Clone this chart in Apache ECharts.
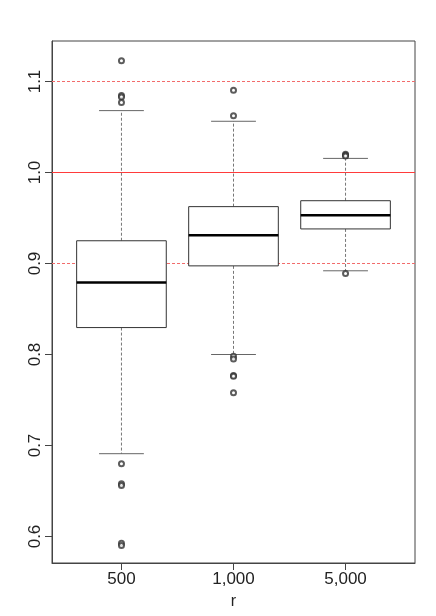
<!DOCTYPE html>
<html>
<head>
<meta charset="utf-8">
<script src="https://cdn.jsdelivr.net/npm/echarts@6/dist/echarts.min.js"></script>
<style>
  html, body { margin: 0; padding: 0; background: #fff; }
  #chart { width: 436px; height: 616px; }
</style>
</head>
<body>
<div id="chart"></div>
<script>
  // categories of r and their box statistics [min, Q1, median, Q3, max]
  const categories = ['500', '1,000', '5,000']
  const whiskerLow = [0.691, 0.800, 0.892]
  const quart1 = [0.8296, 0.8974, 0.938]
  const medians = [0.879, 0.931, 0.953]
  const quart3 = [0.925, 0.9625, 0.969]
  const whiskerHigh = [1.068, 1.0563, 1.0155]

  // outlying points per category
  const outliers500 = [1.1228, 1.0845, 1.083, 1.077, 0.680, 0.658, 0.656, 0.5925, 0.590]
  const outliers1000 = [1.0905, 1.0625, 0.798, 0.795, 0.777, 0.776, 0.758]
  const outliers5000 = [1.020, 1.019, 1.018, 0.889]

  const yTicks = [0.6, 0.7, 0.8, 0.9, 1.0, 1.1]
  const refSolid = 1.0
  const refDotted = [0.9, 1.1]

  const xMin = 0.38
  const xMax = 3.62

  const boxData = categories.map((c, i) => [i + 1, whiskerLow[i], quart1[i], medians[i], quart3[i], whiskerHigh[i]])
  const outlierData = []
  ;[outliers500, outliers1000, outliers5000].forEach((list, i) => {
    list.forEach(v => outlierData.push([i + 1, v]))
  })

  const font = 'Liberation Sans, Arial, sans-serif'

  const renderBox = (params, api) => {
    const x = api.value(0)
    const low = api.coord([x, api.value(1)])
    const q1 = api.coord([x, api.value(2)])
    const med = api.coord([x, api.value(3)])
    const q3 = api.coord([x, api.value(4)])
    const high = api.coord([x, api.value(5)])
    const boxW = api.size([0.8, 0])[0]
    const capW = api.size([0.4, 0])[0]
    const cx = low[0]
    const whisker = { stroke: '#777', lineWidth: 1, lineDash: [3, 2] }
    const cap = { stroke: '#666', lineWidth: 1 }
    return {
      type: 'group',
      children: [
        { type: 'line', shape: { x1: cx, y1: q3[1], x2: cx, y2: high[1] }, style: whisker },
        { type: 'line', shape: { x1: cx, y1: q1[1], x2: cx, y2: low[1] }, style: whisker },
        { type: 'line', shape: { x1: cx - capW / 2, y1: high[1], x2: cx + capW / 2, y2: high[1] }, style: cap },
        { type: 'line', shape: { x1: cx - capW / 2, y1: low[1], x2: cx + capW / 2, y2: low[1] }, style: cap },
        {
          type: 'rect',
          shape: { x: cx - boxW / 2, y: q3[1], width: boxW, height: q1[1] - q3[1] },
          style: { fill: '#fff', stroke: '#333', lineWidth: 1 }
        },
        { type: 'line', shape: { x1: cx - boxW / 2, y1: med[1], x2: cx + boxW / 2, y2: med[1] }, style: { stroke: '#000', lineWidth: 2.5 } }
      ]
    }
  }

  const refLine = (v, color, type) => ({
    type: 'line',
    data: [[xMin, v], [xMax, v]],
    symbol: 'none',
    silent: true,
    z: 1,
    lineStyle: { color: color, width: 1, type: type },
    itemStyle: { color: color }
  })

  const myChart = echarts.init(document.getElementById('chart'))

  const option = {
    animation: false,
    backgroundColor: '#fff',
    grid: {
      left: 52,
      right: 21,
      top: 41,
      bottom: 53,
      show: true,
      borderColor: '#444',
      borderWidth: 1,
      backgroundColor: 'transparent'
    },
    xAxis: {
      type: 'value',
      min: xMin,
      max: xMax,
      name: 'r',
      nameLocation: 'middle',
      nameGap: 31,
      nameTextStyle: { fontFamily: font, fontSize: 16, color: '#222' },
      splitLine: { show: false },
      axisLine: { show: true, lineStyle: { color: '#444' } },
      axisTick: {
        show: true,
        length: 7,
        customValues: [1, 2, 3],
        lineStyle: { color: '#444' }
      },
      axisLabel: {
        customValues: [1, 2, 3],
        formatter: v => categories[Math.round(v) - 1],
        fontFamily: font,
        fontSize: 17,
        color: '#222',
        margin: 8
      }
    },
    yAxis: {
      type: 'value',
      min: 0.57088,
      max: 1.14451,
      splitLine: { show: false },
      axisLine: { show: true, lineStyle: { color: '#444' } },
      axisTick: {
        show: true,
        length: 7,
        customValues: yTicks,
        lineStyle: { color: '#444' }
      },
      axisLabel: {
        customValues: yTicks,
        formatter: v => v.toFixed(1),
        rotate: 90,
        fontFamily: font,
        fontSize: 17,
        color: '#222',
        margin: 8
      }
    },
    series: [
      ...refDotted.map(v => refLine(v, '#f26b6b', [3, 2])),
      refLine(refSolid, '#ff3b3b', 'solid'),
      {
        type: 'custom',
        renderItem: renderBox,
        encode: { x: 0, y: [1, 2, 3, 4, 5] },
        data: boxData,
        z: 3
      },
      {
        type: 'scatter',
        data: outlierData,
        symbol: 'emptyCircle',
        symbolSize: 5,
        itemStyle: { color: '#333', borderWidth: 0.7 },
        z: 4
      }
    ]
  }

  myChart.setOption(option)
</script>
</body>
</html>
